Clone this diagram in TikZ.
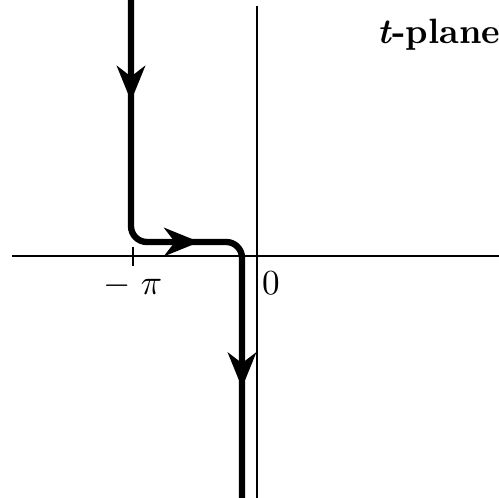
\documentclass[tikz,border=0pt]{standalone}
\usetikzlibrary{arrows.meta,decorations.markings}
\begin{document}
\begin{tikzpicture}[x=0.01cm,y=-0.01cm,>=Stealth,
  axis/.style={line width=0.6pt},
  contour/.style={line width=1.8pt,rounded corners=4.5pt,
    decoration={markings,
      mark=at position 0.17 with {\arrow{Stealth[length=10pt,width=8pt,inset=3pt]}},
      mark=at position 0.51 with {\arrow{Stealth[length=10pt,width=8pt,inset=3pt]}},
      mark=at position 0.815 with {\arrow{Stealth[length=10pt,width=8pt,inset=3pt]}}},
    postaction=decorate},
  lab/.style={font=\normalsize}]
  \useasboundingbox (0,0) rectangle (499,498);

  % axes
  \coordinate (xl) at (12,256);
  \coordinate (xr) at (499,256);
  \coordinate (yt) at (257,6);
  \coordinate (yb) at (257,498);
  \draw[axis] (xl) -- (xr);
  \draw[axis] (yt) -- (yb);
  \draw[axis] (133,247) -- (133,266);

  % path of integration
  \coordinate (c0) at (131,0);
  \coordinate (c1) at (131,242);
  \coordinate (c2) at (242,242);
  \coordinate (c3) at (242,498);
  \draw[contour] (c0) -- (c1) -- (c2) -- (c3);

  % labels
  \node[lab] (mpi) at (133,286) {$-\;\pi$};
  \node[lab] (zero) at (271,283) {0};
  \node[lab] (plane) at (439,35) {\textbf{\textit{t}-plane}};
\end{tikzpicture}
\end{document}
